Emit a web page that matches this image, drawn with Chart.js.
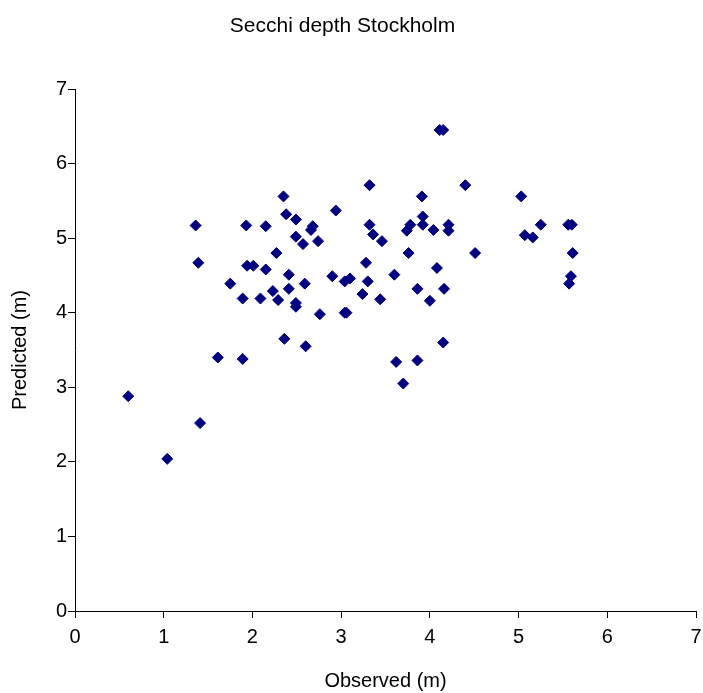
<!DOCTYPE html>
<html>
<head>
<meta charset="utf-8">
<script src="https://cdn.jsdelivr.net/npm/chart.js@4.4.1/dist/chart.umd.min.js"></script>
<style>
  html, body { margin: 0; padding: 0; background: #ffffff; }
  canvas { display: block; }
</style>
</head>
<body>
<canvas id="chart" width="703" height="693"></canvas>
<script>
// Observed vs predicted Secchi depth (m), Stockholm stations
const chartTitle = 'Secchi depth Stockholm';
const xAxisTitle = 'Observed (m)';
const yAxisTitle = 'Predicted (m)';
const axisTicks = [0, 1, 2, 3, 4, 5, 6, 7];

const observed = [
  0.60, 1.04, 1.36, 1.39, 1.41, 1.61, 1.75, 1.89, 1.89, 1.93,
  1.94, 2.01, 2.09, 2.15, 2.15, 2.23, 2.27, 2.29, 2.35, 2.36,
  2.38, 2.41, 2.41, 2.49, 2.49, 2.49, 2.49, 2.57, 2.59, 2.60,
  2.66, 2.68, 2.74, 2.76, 2.90, 2.94, 3.04, 3.04, 3.06, 3.10,
  3.24, 3.28, 3.30, 3.32, 3.32, 3.36, 3.44, 3.46, 3.60, 3.62,
  3.70, 3.74, 3.76, 3.78, 3.86, 3.86, 3.91, 3.92, 3.92, 4.00,
  4.04, 4.08, 4.11, 4.15, 4.15, 4.16, 4.21, 4.21, 4.40, 4.51,
  5.03, 5.07, 5.16, 5.25, 5.56, 5.60, 5.61, 5.59, 5.57
];
const predicted = [
  2.88, 2.04, 5.17, 4.67, 2.52, 3.40, 4.39, 4.19, 3.38, 5.17,
  4.63, 4.63, 4.19, 4.58, 5.16, 4.29, 4.80, 4.17, 5.56, 3.65,
  5.32, 4.51, 4.32, 5.25, 5.02, 4.13, 4.08, 4.92, 4.39, 3.55,
  5.11, 5.16, 4.96, 3.98, 4.49, 5.37, 4.42, 4.00, 4.00, 4.46,
  4.25, 4.67, 4.42, 5.71, 5.18, 5.05, 4.18, 4.96, 4.51, 3.34,
  3.05, 5.10, 4.80, 5.18, 4.32, 3.36, 5.56, 5.29, 5.18, 4.16,
  5.11, 4.60, 6.45, 6.45, 3.60, 4.32, 5.18, 5.10, 5.71, 4.80,
  5.56, 5.04, 5.01, 5.18, 5.18, 5.18, 4.80, 4.49, 4.39
];

const points = observed.map((x, i) => ({ x: x, y: predicted[i] }));

const FONT = '"Liberation Sans", Arial, sans-serif';

// Chart heading, centred over the whole figure rather than the plot area
const headingPlugin = {
  id: 'heading',
  afterDraw(chart) {
    const ctx = chart.ctx;
    ctx.save();
    ctx.font = '21px ' + FONT;
    ctx.fillStyle = '#000000';
    ctx.textAlign = 'center';
    ctx.textBaseline = 'middle';
    ctx.fillText(chartTitle, chart.width / 2 - 9, 26);
    ctx.restore();
  }
};

function axisCommon(titleText) {
  return {
    type: 'linear',
    min: axisTicks[0],
    max: axisTicks[axisTicks.length - 1],
    afterBuildTicks(scale) {
      scale.ticks = axisTicks.map(v => ({ value: v }));
    },
    grid: {
      display: true,
      drawOnChartArea: false,
      drawTicks: true,
      tickLength: 7,
      color: '#000000',
      lineWidth: 1
    },
    border: { display: true, color: '#000000', width: 1 },
    ticks: {
      color: '#000000',
      font: { family: FONT, size: 20 },
      padding: 1,
      callback: v => String(v)
    },
    title: {
      display: true,
      text: titleText,
      color: '#000000',
      font: { family: FONT, size: 20, lineHeight: 1.2 },
      padding: { top: 8, bottom: 0 }
    }
  };
}

const xScale = axisCommon(xAxisTitle);
xScale.position = 'bottom';
xScale.ticks.padding = 7;
xScale.afterFit = s => {
  s.height = 82;
  // let the last tick label hang close to the figure edge
  s.paddingRight = 7;
};

const yScale = axisCommon(yAxisTitle);
yScale.position = 'left';
yScale.afterFit = s => { s.width = 75; };

new Chart(document.getElementById('chart'), {
  type: 'scatter',
  data: {
    datasets: [{
      label: 'Predicted vs observed',
      data: points,
      pointStyle: 'rectRot',
      pointRadius: 5.5,
      pointHoverRadius: 5.5,
      borderWidth: 1,
      backgroundColor: '#000080',
      borderColor: '#000080'
    }]
  },
  options: {
    responsive: false,
    animation: false,
    layout: { padding: { top: 89, right: 0, bottom: 0, left: 0 } },
    plugins: {
      legend: { display: false },
      title: { display: false },
      tooltip: { enabled: false }
    },
    scales: { x: xScale, y: yScale }
  },
  plugins: [headingPlugin]
});
</script>
</body>
</html>
